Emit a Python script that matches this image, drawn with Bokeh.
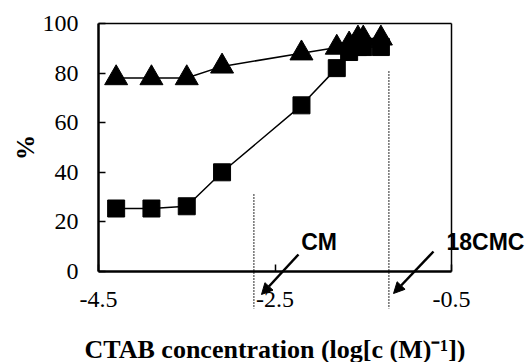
from bokeh.plotting import figure
from bokeh.models import (Range1d, FixedTicker, Arrow, NormalHead, Label,
                          LabelSet, LinearAxis, CustomJSTickFormatter,
                          ColumnDataSource)
from bokeh.core.properties import value
from bokeh.embed import file_html
from bokeh.resources import INLINE

# ---- data ----
log_conc = [-4.3, -3.9, -3.5, -3.1, -2.2, -1.8, -1.66, -1.56, -1.5, -1.3]
series_triangle = [78, 78, 78, 82.7, 88, 90.3, 91.6, 94, 94, 94]
series_square = [25.4, 25.4, 26.3, 40, 67, 82, 88.5, 90.5, 90.5, 90.5]
x_ticks = [-4.5, -2.5, -0.5]
y_ticks = [0, 20, 40, 60, 80, 100]
x_tick_labels = ["-4.5", "-2.5", "-0.5"]
y_tick_labels = ["0", "20", "40", "60", "80", "100"]
x_min, x_max = -4.5, -0.5
y_min, y_max = 0, 100
cm_x = -2.74
cmc_x = -1.21
cm_line_top = 31
cmc_line_top = 80.6
line_bottom = -15
annot_text = ["CM", "18CMC"]
annot_pos = [(-2.0, 11.7), (-0.115, 11.7)]
arrow_start = [(-2.234, 6.85), (-0.704, 8.06)]
arrow_end = [(-2.653, -9.27), (-1.157, -8.87)]

# page geometry (pixels) of the plotting box inside the 531x362 canvas
W, H = 531, 362
box_left, box_right, box_top, box_bottom = 98, 451, 23, 271
xs = (x_max - x_min) / (box_right - box_left)
ys = (y_max - y_min) / (box_bottom - box_top)

p = figure(width=W, height=H, output_backend="svg", toolbar_location=None,
           x_range=Range1d(x_min - box_left * xs, x_max + (W - box_right) * xs),
           y_range=Range1d(y_min - (H - box_bottom) * ys, y_max + box_top * ys),
           min_border_left=0, min_border_right=0, min_border_top=0,
           min_border_bottom=0)
p.background_fill_color = "white"
p.border_fill_color = "white"
p.grid.visible = False
p.outline_line_color = None

serif = "Liberation Serif"
xax = p.xaxis[0]
yax = p.yaxis[0]
for ax in (xax, yax):
    ax.axis_line_width = 2.5
    ax.axis_line_color = "black"
    ax.major_tick_in = 7
    ax.major_tick_out = 0
    ax.major_tick_line_width = 1.5
    ax.minor_tick_in = 0
    ax.minor_tick_out = 0
    ax.formatter = CustomJSTickFormatter(code="return '';")
    ax.major_label_text_font_size = "1px"
    ax.major_label_standoff = 0
    ax.axis_label_text_font = serif
    ax.axis_label_text_font_style = "bold"
    ax.axis_label_text_color = "black"

xax.fixed_location = y_min
yax.fixed_location = x_min
xax.bounds = (x_min, x_max)
yax.bounds = (y_min, y_max)
xax.ticker = FixedTicker(ticks=x_ticks)
yax.ticker = FixedTicker(ticks=y_ticks)
xax.axis_label = "CTAB concentration (log[c (M)\u207b\u00b9])"
xax.axis_label_text_font_size = "26px"
xax.axis_label_standoff = 63
yax.axis_label = "%"
yax.axis_label_text_font_size = "25px"
yax.axis_label_standoff = 60

# tick labels (serif, as in the original)
x_lab_src = ColumnDataSource(dict(x=x_ticks, y=[y_min] * len(x_ticks),
                                  t=x_tick_labels))
y_lab_src = ColumnDataSource(dict(x=[x_min] * len(y_ticks), y=y_ticks,
                                  t=y_tick_labels))
p.add_layout(LabelSet(x="x", y="y", text="t", source=x_lab_src,
                      y_offset=-28, text_align="center", text_baseline="middle",
                      text_font=value(serif), text_font_size=value("24px"),
                      text_color="black"))
p.add_layout(LabelSet(x="x", y="y", text="t", source=y_lab_src,
                      x_offset=-20, text_align="right", text_baseline="middle",
                      text_font=value(serif), text_font_size=value("24px"),
                      text_color="black"))

# top and right box edges as plain axes
top_ax = LinearAxis(fixed_location=y_max, bounds=(x_min, x_max),
                    ticker=FixedTicker(ticks=[]), major_label_text_font_size="0px",
                    axis_line_width=1.5, major_tick_in=0, major_tick_out=0,
                    minor_tick_in=0, minor_tick_out=0)
right_ax = LinearAxis(fixed_location=x_max, bounds=(y_min, y_max),
                      ticker=FixedTicker(ticks=[]), major_label_text_font_size="0px",
                      axis_line_width=1.5, major_tick_in=0, major_tick_out=0,
                      minor_tick_in=0, minor_tick_out=0)
p.add_layout(top_ax, "above")
p.add_layout(right_ax, "right")

# series
p.line(log_conc, series_square, line_color="black", line_width=1.5)
p.scatter(log_conc, series_square, marker="square", size=17,
          fill_color="black", line_color="black")
p.line(log_conc, series_triangle, line_color="black", line_width=1.5)
p.scatter(log_conc, series_triangle, marker="triangle", size=23,
          fill_color="black", line_color="black")

# dotted reference lines
for xv, top in ((cm_x, cm_line_top), (cmc_x, cmc_line_top)):
    p.segment(x0=[xv], y0=[top], x1=[xv], y1=[line_bottom],
              line_color="black", line_width=1.7, line_dash="1 2")

# arrows
for (xs0, ys0), (xe, ye) in zip(arrow_start, arrow_end):
    p.add_layout(Arrow(x_start=xs0, y_start=ys0, x_end=xe, y_end=ye,
                       line_color="black", line_width=2.5,
                       end=NormalHead(size=11, fill_color="black",
                                      line_color="black")))

for t, (xv, yv) in zip(annot_text, annot_pos):
    p.add_layout(Label(x=xv, y=yv, text=t, text_font="Liberation Sans",
                       text_font_style="bold", text_font_size="23px",
                       text_align="center", text_baseline="middle",
                       text_color="black"))

open("out.html", "w").write(file_html(p, INLINE))
